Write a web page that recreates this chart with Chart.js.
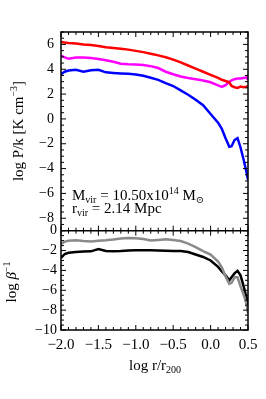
<!DOCTYPE html>
<html>
<head>
<meta charset="utf-8">
<script src="https://cdn.jsdelivr.net/npm/chart.js@4/dist/chart.umd.min.js"></script>
<style>
  html, body { margin: 0; padding: 0; background: #fff; }
  canvas { display: block; }
</style>
</head>
<body>
<canvas id="myChart" width="266" height="399"></canvas>
<script>
// log r/r200 sample positions (shared by every curve)
const logR = [-2.0, -1.95, -1.9, -1.8, -1.7, -1.6, -1.5, -1.4, -1.3, -1.2, -1.1, -1.0, -0.9, -0.8, -0.7, -0.6,
  -0.5, -0.4, -0.3, -0.2, -0.1, 0.0, 0.1, 0.15, 0.2, 0.25, 0.28, 0.32, 0.36, 0.4, 0.44, 0.48, 0.5];

// top panel: log P/k
const pRed = [6.2, 6.15, 6.12, 6.08, 6.0, 5.95, 5.88, 5.78, 5.72, 5.65, 5.58, 5.48, 5.38, 5.25, 5.12, 4.97,
  4.78, 4.55, 4.3, 4.05, 3.8, 3.55, 3.3, 3.15, 3.05, 2.95, 2.65, 2.55, 2.5, 2.6, 2.55, 2.6, 2.65];
const pMagenta = [5.1, 4.95, 4.85, 4.95, 4.95, 4.9, 4.82, 4.72, 4.6, 4.45, 4.4, 4.38, 4.35, 4.25, 4.1, 3.8,
  3.6, 3.42, 3.3, 3.2, 3.1, 2.95, 2.7, 2.58, 2.72, 3.0, 3.1, 3.2, 3.25, 3.25, 3.3, 3.35, 3.15];
const pBlue = [3.6, 3.8, 3.9, 3.95, 3.8, 3.92, 3.95, 3.75, 3.7, 3.66, 3.63, 3.57, 3.48, 3.32, 3.15, 2.88,
  2.65, 2.3, 1.95, 1.55, 1.1, 0.4, -0.3, -0.8, -1.55, -2.25, -2.2, -1.7, -1.55, -2.3, -3.25, -4.3, -4.9];

// bottom panel: log beta^-1
const betaGray = [-1.35, -1.1, -1.02, -0.97, -1.05, -1.08, -1.02, -0.97, -0.9, -0.8, -0.75, -0.77, -0.85, -0.98, -0.93, -0.87,
  -0.95, -1.05, -1.3, -1.65, -2.05, -2.4, -3.1, -3.7, -4.6, -5.35, -5.25, -4.7, -4.7, -5.6, -6.4, -7.4, -8.3];
const betaBlack = [-2.75, -2.35, -2.22, -2.15, -2.1, -2.08, -1.85, -2.05, -2.08, -2.05, -2.0, -1.98, -1.97, -1.98, -2.0, -2.03,
  -2.05, -2.05, -2.15, -2.4, -2.65, -3.0, -3.65, -4.1, -4.5, -5.0, -4.7, -4.3, -4.05, -4.5, -5.55, -6.7, -7.4];

// tick labels
const xTicks = [-2.0, -1.5, -1.0, -0.5, 0.0, 0.5];
const yTopTicks = [-8, -6, -4, -2, 0, 2, 4, 6];
const yBotTicks = [-10, -8, -6, -4, -2, 0];

const SERIF = '"Liberation Serif", "DejaVu Serif", serif';

function pts(arr) {
  return logR.map((r, i) => ({ x: r, y: arr[i] }));
}
function minus(s) {
  return String(s).replace('-', '\u2212');
}
function line(label, arr, color, axis) {
  return {
    label: label,
    data: pts(arr),
    borderColor: color,
    backgroundColor: color,
    borderWidth: 2.5,
    pointRadius: 0,
    tension: 0,
    yAxisID: axis
  };
}

// draws a run of text pieces with sub/superscripts
function drawRich(ctx, parts, x, y, align) {
  const fontOf = p => (p.italic ? 'italic ' : '') + (p.size || 15) + 'px ' + SERIF;
  let w = 0;
  parts.forEach(p => { ctx.font = fontOf(p); w += ctx.measureText(p.t).width; });
  let cx = align === 'center' ? x - w / 2 : x;
  ctx.textAlign = 'left';
  ctx.textBaseline = 'alphabetic';
  parts.forEach(p => {
    ctx.font = fontOf(p);
    ctx.fillText(p.t, cx, y + (p.dy || 0));
    cx += ctx.measureText(p.t).width;
  });
}

const framePlugin = {
  id: 'frame',
  afterDatasetsDraw(chart) {
    const { ctx, chartArea: a, scales } = chart;
    const xs = scales.x, yt = scales.y, yb = scales.y2;
    ctx.save();
    ctx.strokeStyle = '#000';
    ctx.lineWidth = 1.5;
    ctx.strokeRect(a.left, a.top, a.right - a.left, a.bottom - a.top);
    ctx.beginPath();
    ctx.moveTo(a.left, yb.top);
    ctx.lineTo(a.right, yb.top);
    ctx.stroke();

    ctx.lineWidth = 1;
    ctx.beginPath();
    for (let i = 0; i <= 25; i++) {
      const px = xs.getPixelForValue(-2 + i * 0.1);
      const len = i % 5 === 0 ? 5 : 3;
      [[a.top, 1], [yb.top, -1], [yb.top, 1], [a.bottom, -1]].forEach(([y0, d]) => {
        ctx.moveTo(px, y0);
        ctx.lineTo(px, y0 + d * len);
      });
    }
    [[yt, -9, 7], [yb, -10, 0]].forEach(([s, lo, hi]) => {
      for (let v = lo; v <= hi; v += 0.5) {
        const py = s.getPixelForValue(v);
        const len = v % 2 === 0 ? 5 : 3;
        ctx.moveTo(a.left, py);
        ctx.lineTo(a.left + len, py);
        ctx.moveTo(a.right, py);
        ctx.lineTo(a.right - len, py);
      }
    });
    ctx.stroke();
    ctx.restore();
  },
  afterDraw(chart) {
    const { ctx } = chart;
    ctx.save();
    ctx.fillStyle = '#000';

    // axis titles
    ctx.save();
    ctx.translate(23, 131);
    ctx.rotate(-Math.PI / 2);
    drawRich(ctx, [{ t: 'log P/k [K cm' }, { t: '\u22123', size: 10, dy: -6 }, { t: ']' }], 0, 0, 'center');
    ctx.restore();

    ctx.save();
    ctx.translate(16, 282);
    ctx.rotate(-Math.PI / 2);
    drawRich(ctx, [{ t: 'log ' }, { t: '\u03b2', italic: true }, { t: '\u22121', size: 10, dy: -6 }], 0, 0, 'center');
    ctx.restore();

    drawRich(ctx, [{ t: 'log r/r' }, { t: '200', size: 10, dy: 3 }], 155, 370, 'center');

    // annotation
    drawRich(ctx, [{ t: 'M' }, { t: 'vir', size: 10, dy: 3 }, { t: ' = 10.50x10' }, { t: '14', size: 10, dy: -6 },
      { t: ' M' }, { t: '\u2299', size: 10, dy: 3 }], 72, 200, 'left');
    drawRich(ctx, [{ t: 'r' }, { t: 'vir', size: 10, dy: 3 }, { t: ' = 2.14 Mpc' }], 72, 213, 'left');
    ctx.restore();
  }
};

const tickFont = { family: SERIF, size: 14 };

const config = {
  type: 'line',
  data: {
    datasets: [
      line('red', pRed, '#ff0000', 'y'),
      line('magenta', pMagenta, '#ff00ff', 'y'),
      line('blue', pBlue, '#0000ff', 'y'),
      line('gray', betaGray, '#8a8a8a', 'y2'),
      line('black', betaBlack, '#000000', 'y2')
    ]
  },
  options: {
    responsive: false,
    animation: false,
    devicePixelRatio: 1,
    layout: { padding: { left: 0, right: 18, top: 32, bottom: 0 } },
    plugins: { legend: { display: false }, tooltip: { enabled: false } },
    scales: {
      x: {
        type: 'linear',
        min: -2.0,
        max: 0.5,
        grid: { display: false, drawTicks: false },
        border: { display: false },
        afterBuildTicks: s => { s.ticks = xTicks.map(v => ({ value: v })); },
        afterFit: s => { s.height = 69; },
        ticks: {
          autoSkip: false,
          padding: 6,
          color: '#000',
          font: { family: SERIF, size: 15 },
          maxRotation: 0,
          callback: v => minus(Number(v).toFixed(1))
        }
      },
      // bottom panel is listed first so the layout stacks it below the top one
      y2: {
        type: 'linear',
        position: 'left',
        stack: 'panels',
        stackWeight: 1,
        min: -10,
        max: 0,
        grid: { display: false, drawTicks: false },
        border: { display: false },
        afterBuildTicks: s => { s.ticks = yBotTicks.map(v => ({ value: v })); },
        afterFit: s => { s.width = 61; },
        ticks: {
          autoSkip: false,
          padding: 4,
          color: '#000',
          font: tickFont,
          callback: v => minus(v)
        }
      },
      y: {
        type: 'linear',
        position: 'left',
        stack: 'panels',
        stackWeight: 2,
        min: -9,
        max: 7,
        grid: { display: false, drawTicks: false },
        border: { display: false },
        afterBuildTicks: s => { s.ticks = yTopTicks.map(v => ({ value: v })); },
        afterFit: s => { s.width = 61; },
        ticks: {
          autoSkip: false,
          padding: 7,
          color: '#000',
          font: tickFont,
          callback: v => minus(v)
        }
      }
    }
  },
  plugins: [framePlugin]
};

window.onload = function() {
  const ctx = document.getElementById('myChart').getContext('2d');
  new Chart(ctx, config);
};
</script>
</body>
</html>
